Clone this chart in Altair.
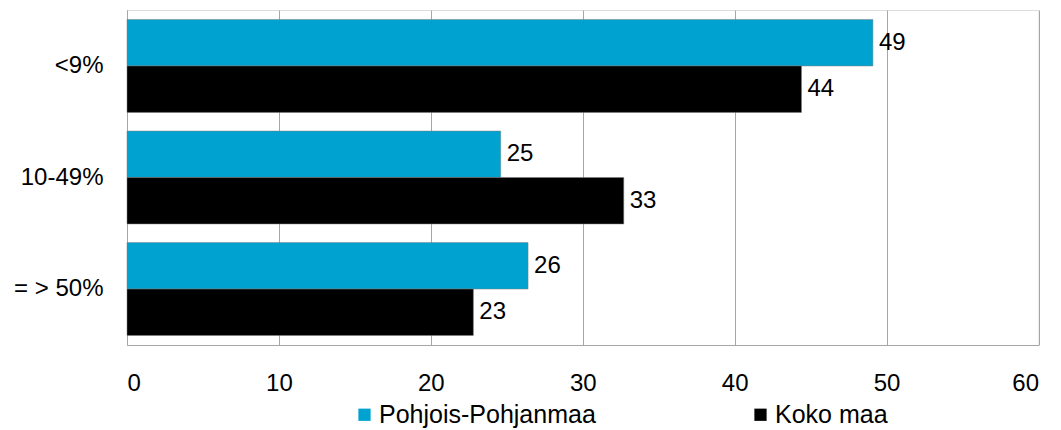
import altair as alt
import pandas as pd

categories = ["<9%", "10-49%", "= > 50%"]
series = ["Pohjois-Pohjanmaa", "Koko maa"]
pohjois = [49.1, 24.6, 26.4]
koko = [44.4, 32.7, 22.8]
colors = ["#00A3D0", "#000000"]
x_ticks = [0, 10, 20, 30, 40, 50, 60]

rows = []
for c, p, k in zip(categories, pohjois, koko):
    rows.append({"cat": c, "series": series[0], "value": p})
    rows.append({"cat": c, "series": series[1], "value": k})
df = pd.DataFrame(rows)

FONT = "Liberation Sans"
GRID = "#A6A6A6"

y = alt.Y(
    "cat:N", sort=categories, title=None,
    scale=alt.Scale(paddingInner=0.167, paddingOuter=0.085),
    axis=alt.Axis(labelFontSize=24, labelPadding=24, ticks=False, domain=True,
                  domainColor=GRID, labelColor="#000000", labelFont=FONT, grid=False),
)
yoff = alt.YOffset("series:N", sort=series, scale=alt.Scale(paddingInner=0, paddingOuter=0))
x = alt.X(
    "value:Q", title=None,
    scale=alt.Scale(domain=[0, 60], nice=False, zero=True),
    axis=alt.Axis(values=x_ticks, grid=True, gridColor=GRID, gridWidth=1, ticks=False,
                  domain=True, domainColor=GRID, labelFontSize=24, labelPadding=26,
                  labelColor="#000000", labelFont=FONT),
)

bars = alt.Chart(df).mark_bar(stroke="#7F7F7F", strokeWidth=0.5).encode(
    x=x, y=y, yOffset=yoff,
    color=alt.Color(
        "series:N", sort=series,
        scale=alt.Scale(domain=series, range=colors),
        legend=alt.Legend(
            title=None, orient="none", legendX=225, legendY=392, direction="horizontal",
            columns=2, columnPadding=152, symbolType="square", symbolSize=150,
            symbolStrokeWidth=0, labelFontSize=25, labelFont=FONT, labelColor="#000000",
            labelOffset=2, labelLimit=400,
        ),
    ),
)

labels = alt.Chart(df).mark_text(
    align="left", baseline="middle", dx=6, fontSize=24, font=FONT, color="#000000"
).encode(
    x=x, y=y, yOffset=yoff, text=alt.Text("value:Q", format=".0f")
)

chart = alt.layer(bars, labels).properties(
    width=911.5, height=335,
    autosize=alt.AutoSizeParams(type="none"),
    padding={"left": 119, "top": 2, "right": 14, "bottom": 85},
).configure_view(stroke=GRID, strokeWidth=1).configure(background="#ffffff")

chart.save("out.html", embed_options={"renderer": "svg", "actions": False})
